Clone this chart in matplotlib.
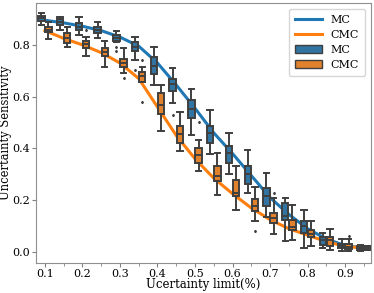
import numpy as np
import matplotlib
matplotlib.use("Agg")
import matplotlib.pyplot as plt
from matplotlib.lines import Line2D
from matplotlib.patches import Patch

limits = [0.10, 0.15, 0.20, 0.25, 0.30, 0.35, 0.40, 0.45, 0.50,
          0.55, 0.60, 0.65, 0.70, 0.75, 0.80, 0.85, 0.90, 0.95]

# mean curves
mc_mean = [0.895, 0.885, 0.872, 0.855, 0.830, 0.795, 0.730, 0.645, 0.555,
           0.460, 0.380, 0.295, 0.210, 0.145, 0.090, 0.050, 0.025, 0.015]
cmc_mean = [0.855, 0.825, 0.800, 0.770, 0.730, 0.670, 0.560, 0.450, 0.360,
            0.285, 0.225, 0.170, 0.125, 0.090, 0.065, 0.040, 0.022, 0.015]

# box statistics, MC
mc_lo = [0.875, 0.858, 0.840, 0.826, 0.810, 0.741, 0.645, 0.575, 0.450,
         0.377, 0.300, 0.229, 0.136, 0.041, 0.016, 0.016, 0.002, 0.005]
mc_q1 = [0.894, 0.878, 0.859, 0.845, 0.816, 0.775, 0.687, 0.622, 0.519,
         0.420, 0.345, 0.261, 0.177, 0.125, 0.074, 0.028, 0.016, 0.009]
mc_med = [0.903, 0.887, 0.869, 0.857, 0.828, 0.793, 0.720, 0.648, 0.554,
          0.461, 0.381, 0.302, 0.215, 0.140, 0.099, 0.048, 0.024, 0.016]
mc_q3 = [0.911, 0.898, 0.885, 0.868, 0.840, 0.810, 0.752, 0.668, 0.587,
         0.487, 0.409, 0.332, 0.248, 0.190, 0.121, 0.058, 0.032, 0.024]
mc_hi = [0.922, 0.907, 0.909, 0.890, 0.855, 0.830, 0.793, 0.709, 0.629,
         0.547, 0.461, 0.393, 0.306, 0.207, 0.161, 0.074, 0.050, 0.028]
mc_out = [[], [], [], [], [0.777, 0.790], [0.703], [], [0.528], [],
          [], [], [], [], [], [], [], [], []]

# box statistics, CMC
cmc_lo = [0.823, 0.790, 0.756, 0.713, 0.691, 0.655, 0.467, 0.390, 0.312,
          0.222, 0.164, 0.119, 0.071, 0.048, 0.022, 0.009, 0.005, 0.007]
cmc_q1 = [0.849, 0.806, 0.787, 0.756, 0.713, 0.655, 0.532, 0.422, 0.345,
          0.274, 0.215, 0.157, 0.112, 0.084, 0.057, 0.024, 0.013, 0.009]
cmc_med = [0.859, 0.826, 0.803, 0.774, 0.730, 0.678, 0.567, 0.455, 0.373,
           0.293, 0.229, 0.177, 0.132, 0.095, 0.070, 0.048, 0.020, 0.015]
cmc_q3 = [0.868, 0.845, 0.816, 0.787, 0.745, 0.694, 0.616, 0.487, 0.400,
          0.334, 0.277, 0.203, 0.151, 0.125, 0.084, 0.057, 0.032, 0.024]
cmc_hi = [0.888, 0.868, 0.832, 0.816, 0.787, 0.713, 0.645, 0.539, 0.433,
          0.381, 0.334, 0.252, 0.207, 0.183, 0.121, 0.089, 0.050, 0.025]
cmc_out = [[], [], [0.859], [], [0.672], [0.741, 0.578], [], [], [0.502],
           [], [], [0.080], [0.226], [], [], [], [0.063], []]

x_ticks = [0.1, 0.2, 0.3, 0.4, 0.5, 0.6, 0.7, 0.8, 0.9]
y_ticks = [0.0, 0.2, 0.4, 0.6, 0.8]

plt.rcParams['font.family'] = ['DejaVu Serif']

line_blue = '#1f77b4'
line_orange = '#ff7f0e'
box_blue = '#3274a1'
box_orange = '#e1812c'
edge = '#3f3f3f'

fig = plt.figure(figsize=(3.74, 2.93), dpi=100)
ax = fig.add_axes([0.096, 0.102, 0.896, 0.888])


def stats(lo, q1, med, q3, hi, out):
    return [dict(whislo=a, q1=b, med=c, q3=d, whishi=e, fliers=f)
            for a, b, c, d, e, f in zip(lo, q1, med, q3, hi, out)]


def draw_boxes(st, pos, color):
    w = 0.017
    ax.bxp(st, positions=pos, widths=w, capwidths=w * 0.85,
           patch_artist=True, manage_ticks=False,
           boxprops=dict(facecolor=color, edgecolor=edge, linewidth=1.4),
           medianprops=dict(color=edge, linewidth=1.4),
           whiskerprops=dict(color=edge, linewidth=1.4),
           capprops=dict(color=edge, linewidth=1.4),
           flierprops=dict(marker='d', markersize=1.2, markerfacecolor=edge,
                           markeredgecolor=edge))


x = np.array(limits)
ax.plot(x, mc_mean, color=line_blue, lw=2.2, zorder=1)
ax.plot(x, cmc_mean, color=line_orange, lw=2.2, zorder=1)
draw_boxes(stats(mc_lo, mc_q1, mc_med, mc_q3, mc_hi, mc_out), x - 0.0095, box_blue)
draw_boxes(stats(cmc_lo, cmc_q1, cmc_med, cmc_q3, cmc_hi, cmc_out), x + 0.0095, box_orange)

ax.set_xlim(0.076, 0.969)
ax.set_ylim(-0.043, 0.962)
ax.set_xticks(x_ticks)
ax.set_xticklabels([f"{v:.1f}" for v in x_ticks])
ax.set_xticks(limits[1::2], minor=True)
ax.set_yticks(y_ticks)
ax.set_yticklabels([f"{v:.1f}" for v in y_ticks])
ax.tick_params(axis='both', which='major', labelsize=8, length=3,
               color='#808080', pad=1.5)
ax.tick_params(axis='y', which='major', pad=1)
ax.tick_params(axis='x', which='minor', length=2, color='#808080')
for s in ax.spines.values():
    s.set_color('#909090')

ax.set_xlabel('Ucertainty limit(%)', fontsize=8.5)
ax.set_ylabel('Uncertainty Sensitivity', fontsize=8.3)
ax.xaxis.set_label_coords(0.5, -0.058)
ax.yaxis.set_label_coords(-0.072, 0.5)

handles = [Line2D([], [], color=line_blue, lw=2.2),
           Line2D([], [], color=line_orange, lw=2.2),
           Patch(facecolor=box_blue, edgecolor=edge),
           Patch(facecolor=box_orange, edgecolor=edge)]
ax.legend(handles, ['MC', 'CMC', 'MC', 'CMC'], loc='upper right',
          fontsize=8, borderpad=0.55, labelspacing=0.45, handlelength=2.4,
          borderaxespad=0.55)

fig.savefig('out.png', dpi=100)
